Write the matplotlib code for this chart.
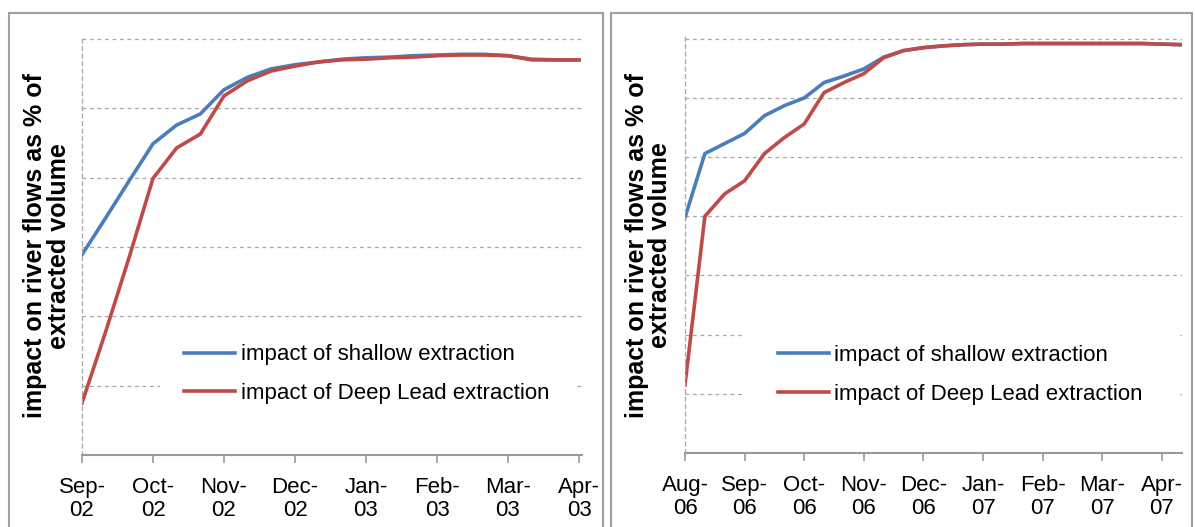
import numpy as np
import matplotlib
matplotlib.use('Agg')
import matplotlib.pyplot as plt
from matplotlib.patches import Rectangle

plt.rcParams['font.family'] = ['Liberation Sans', 'DejaVu Sans']

# left panel: 2002-03, values every third of a month (fraction of extracted volume)
left_months = ['Sep-\n02', 'Oct-\n02', 'Nov-\n02', 'Dec-\n02', 'Jan-\n03',
               'Feb-\n03', 'Mar-\n03', 'Apr-\n03']
left_shallow = [0.689, 0.742, 0.796, 0.849, 0.876, 0.892, 0.927, 0.945, 0.957,
                0.963, 0.967, 0.971, 0.973, 0.974, 0.976, 0.977, 0.978, 0.978,
                0.976, 0.971, 0.970, 0.970]
left_deep = [0.475, 0.578, 0.686, 0.799, 0.843, 0.863, 0.918, 0.940, 0.954,
             0.961, 0.967, 0.970, 0.971, 0.973, 0.974, 0.976, 0.977, 0.977,
             0.976, 0.970, 0.970, 0.970]

# right panel: 2006-07
right_months = ['Aug-\n06', 'Sep-\n06', 'Oct-\n06', 'Nov-\n06', 'Dec-\n06',
                'Jan-\n07', 'Feb-\n07', 'Mar-\n07', 'Apr-\n07']
right_shallow = [0.698, 0.806, 0.823, 0.840, 0.870, 0.887, 0.900, 0.926, 0.937,
                 0.949, 0.969, 0.980, 0.985, 0.988, 0.990, 0.991, 0.991, 0.992,
                 0.992, 0.992, 0.992, 0.992, 0.992, 0.992, 0.991, 0.990]
right_deep = [0.415, 0.700, 0.738, 0.760, 0.806, 0.833, 0.856, 0.909, 0.926,
              0.941, 0.968, 0.980, 0.985, 0.988, 0.990, 0.991, 0.991, 0.992,
              0.992, 0.992, 0.992, 0.992, 0.992, 0.992, 0.991, 0.990]

labels = ['impact of shallow extraction', 'impact of Deep Lead extraction']
ylab = 'impact on river flows as % of\nextracted volume'

BLUE = '#4a7ebb'
RED = '#be4b48'
GRID = '#a6a6a6'

W, H = 1195, 527
fig = plt.figure(figsize=(W / 100, H / 100), dpi=100)


def px_axes(x0, x1, ytop, ybot):
    return fig.add_axes([x0 / W, 1 - ybot / H, (x1 - x0) / W, (ybot - ytop) / H])


def panel(ax, months, shallow, deep, ymin, xmax, lab_x, leg_x, leg_y, bpad):
    x = np.arange(len(shallow)) / 3.0
    ax.plot(x, shallow, color=BLUE, lw=2.6, label=labels[0])
    ax.plot(x, deep, color=RED, lw=2.6, label=labels[1])
    ax.set_xlim(0, xmax)
    ax.set_ylim(ymin, 1.003)
    ax.set_yticks(np.arange(ymin + 0.1, 1.001, 0.1))
    ax.yaxis.grid(True, color=GRID, ls=(0, (3, 3)), lw=0.9)
    ax.tick_params(axis='y', length=0, labelleft=False)
    ax.set_xticks(range(len(months)))
    ax.set_xticklabels(months, fontsize=16, linespacing=1.1)
    ax.tick_params(axis='x', length=6, color='#999999', width=1.2, pad=10)
    for s in ['top', 'right']:
        ax.spines[s].set_visible(False)
    ax.spines['bottom'].set_color('#999999')
    ax.spines['bottom'].set_linewidth(1.5)
    ax.spines['left'].set_color(GRID)
    ax.spines['left'].set_linestyle((0, (3, 3)))
    ax.spines['left'].set_linewidth(0.9)
    ax.set_ylabel(ylab, fontsize=18, fontweight='bold', linespacing=0.95, va='center')
    ax.yaxis.set_label_coords(lab_x, 0.5)
    leg = ax.legend(loc='lower left', bbox_to_anchor=(leg_x, leg_y), borderaxespad=0,
                    frameon=True, fontsize=16, handlelength=2.3, handletextpad=0.25,
                    labelspacing=0.8, borderpad=bpad)
    leg.get_frame().set_edgecolor('none')
    leg.get_frame().set_facecolor('white')
    leg.get_frame().set_alpha(1)


ax1 = px_axes(82, 582, 37, 455)
panel(ax1, left_months, left_shallow, left_deep, 0.4, 500 / 71.0,
      -0.07, 0.155, 0.063, 1.1)

ax2 = px_axes(685, 1182, 37, 453)
panel(ax2, right_months, right_shallow, right_deep, 0.3, 497 / 59.6,
      -0.074, 0.115, 0.03, 1.6)

# panel frames
for x0, x1 in [(9, 603), (611, 1192)]:
    fig.add_artist(Rectangle((x0 / W, -0.05), (x1 - x0) / W, 1.05 - 13 / H,
                             transform=fig.transFigure, fill=False,
                             edgecolor='#a0a0a0', lw=1.5))

fig.savefig('out.png', dpi=100)
